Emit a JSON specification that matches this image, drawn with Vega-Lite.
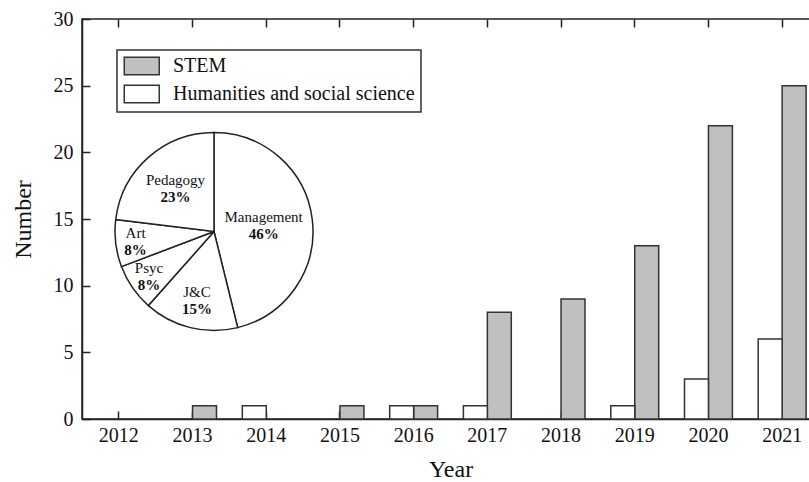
{
  "$schema": "https://vega.github.io/schema/vega-lite/v6.json",
  "width": 737,
  "height": 400,
  "autosize": {"type": "none"},
  "padding": {"left": 82, "top": 19, "right": 0, "bottom": 63},
  "background": "white",
  "config": {
    "font": "Liberation Serif",
    "view": {"stroke": "#222", "strokeWidth": 1.5},
    "axis": {
      "grid": false,
      "domainColor": "#222",
      "domainWidth": 1.5,
      "tickColor": "#222",
      "tickWidth": 1.5,
      "labelColor": "#111",
      "titleColor": "#111",
      "labelFont": "Liberation Serif",
      "titleFont": "Liberation Serif",
      "labelFontSize": 20,
      "titleFontSize": 24,
      "titleFontWeight": "normal"
    }
  },
  "resolve": {"axis": {"x": "independent"}},
  "layer": [
    {
      "data": {
        "values": [
          {"year": "2012", "series": "STEM", "value": 0},
          {"year": "2012", "series": "Humanities and social science", "value": 0},
          {"year": "2013", "series": "STEM", "value": 1},
          {"year": "2013", "series": "Humanities and social science", "value": 0},
          {"year": "2014", "series": "STEM", "value": 0},
          {"year": "2014", "series": "Humanities and social science", "value": 1},
          {"year": "2015", "series": "STEM", "value": 1},
          {"year": "2015", "series": "Humanities and social science", "value": 0},
          {"year": "2016", "series": "STEM", "value": 1},
          {"year": "2016", "series": "Humanities and social science", "value": 1},
          {"year": "2017", "series": "STEM", "value": 8},
          {"year": "2017", "series": "Humanities and social science", "value": 1},
          {"year": "2018", "series": "STEM", "value": 9},
          {"year": "2018", "series": "Humanities and social science", "value": 0},
          {"year": "2019", "series": "STEM", "value": 13},
          {"year": "2019", "series": "Humanities and social science", "value": 1},
          {"year": "2020", "series": "STEM", "value": 22},
          {"year": "2020", "series": "Humanities and social science", "value": 3},
          {"year": "2021", "series": "STEM", "value": 25},
          {"year": "2021", "series": "Humanities and social science", "value": 6}
        ]
      },
      "transform": [{"filter": "datum.value > 0"}],
      "mark": {"type": "bar", "stroke": "#333", "strokeWidth": 1.5},
      "encoding": {
        "x": {
          "field": "year",
          "type": "nominal",
          "scale": {
            "domain": ["2012", "2013", "2014", "2015", "2016", "2017", "2018", "2019", "2020", "2021"],
            "paddingInner": 0.35,
            "paddingOuter": 0.175
          },
          "axis": {
            "orient": "bottom",
            "title": "Year",
            "labelAngle": 0,
            "bandPosition": 0.5,
            "tickSize": -8,
            "labelPadding": 14,
            "titlePadding": 12
          }
        },
        "xOffset": {
          "field": "series",
          "type": "nominal",
          "scale": {
            "domain": ["Humanities and social science", "STEM"],
            "paddingInner": 0,
            "paddingOuter": 0
          }
        },
        "y": {
          "field": "value",
          "type": "quantitative",
          "scale": {"domain": [0, 30], "nice": false},
          "axis": {
            "title": "Number",
            "values": [0, 5, 10, 15, 20, 25, 30],
            "tickSize": -8,
            "labelPadding": 17,
            "titlePadding": 18
          }
        },
        "fill": {
          "field": "series",
          "type": "nominal",
          "scale": {
            "domain": ["STEM", "Humanities and social science"],
            "range": ["#c0c0c0", "#ffffff"]
          },
          "legend": {
            "orient": "none",
            "legendX": 35,
            "legendY": 31,
            "title": null,
            "strokeColor": "#333",
            "fillColor": "white",
            "padding": 6,
            "symbolType": "M-1,-1H3V1H-1Z",
            "symbolSize": 306,
            "symbolStrokeColor": "#333",
            "symbolStrokeWidth": 1.5,
            "symbolOpacity": 1,
            "labelFont": "Liberation Serif",
            "labelFontSize": 20,
            "labelColor": "#111",
            "labelOffset": 30,
            "labelLimit": 500,
            "rowPadding": 4,
            "encode": {"legend": {"update": {"strokeWidth": {"value": 1.5}}}}
          }
        }
      }
    },
    {
      "data": {
        "values": [
          {"year": "2012"}, {"year": "2013"}, {"year": "2014"}, {"year": "2015"}, {"year": "2016"},
          {"year": "2017"}, {"year": "2018"}, {"year": "2019"}, {"year": "2020"}, {"year": "2021"}
        ]
      },
      "mark": {"type": "point", "opacity": 0},
      "encoding": {
        "x": {
          "field": "year",
          "type": "nominal",
          "axis": {
            "orient": "top",
            "labels": false,
            "title": null,
            "domain": false,
            "bandPosition": 0.5,
            "tickSize": -8
          }
        }
      }
    },
    {
      "data": {"name": "pie", "values": [
        {"rank": 1, "category": "Management", "count": 6, "percent": "46%"},
        {"rank": 2, "category": "J&C", "count": 2, "percent": "15%"},
        {"rank": 3, "category": "Psyc", "count": 1, "percent": "8%"},
        {"rank": 4, "category": "Art", "count": 1, "percent": "8%"},
        {"rank": 5, "category": "Pedagogy", "count": 3, "percent": "23%"}
      ]},
      "layer": [
        {
          "mark": {"type": "arc", "outerRadius": 99, "fill": "white", "stroke": "#222", "strokeWidth": 1.5},
          "encoding": {
            "theta": {"field": "count", "type": "quantitative", "stack": true},
            "order": {"field": "rank", "type": "quantitative"},
            "x": {"value": 132},
            "y": {"value": 212.5}
          }
        },
        {
          "mark": {"type": "text", "fontSize": 15, "font": "Liberation Serif", "color": "#111", "dy": -8.5},
          "encoding": {
            "theta": {"field": "count", "type": "quantitative", "stack": true},
            "order": {"field": "rank", "type": "quantitative"},
            "radius": {"field": "count", "type": "quantitative", "scale": {"type": "linear", "domain": [1, 2, 3, 6], "range": [79, 71, 58, 50]}},
            "x": {"value": 132},
            "y": {"value": 212.5},
            "text": {"field": "category"}
          }
        },
        {
          "mark": {"type": "text", "fontSize": 15, "font": "Liberation Serif", "fontWeight": "bold", "color": "#111", "dy": 8.5},
          "encoding": {
            "theta": {"field": "count", "type": "quantitative", "stack": true},
            "order": {"field": "rank", "type": "quantitative"},
            "radius": {"field": "count", "type": "quantitative", "scale": {"type": "linear", "domain": [1, 2, 3, 6], "range": [79, 71, 58, 50]}},
            "x": {"value": 132},
            "y": {"value": 212.5},
            "text": {"field": "percent"}
          }
        }
      ]
    }
  ]
}
